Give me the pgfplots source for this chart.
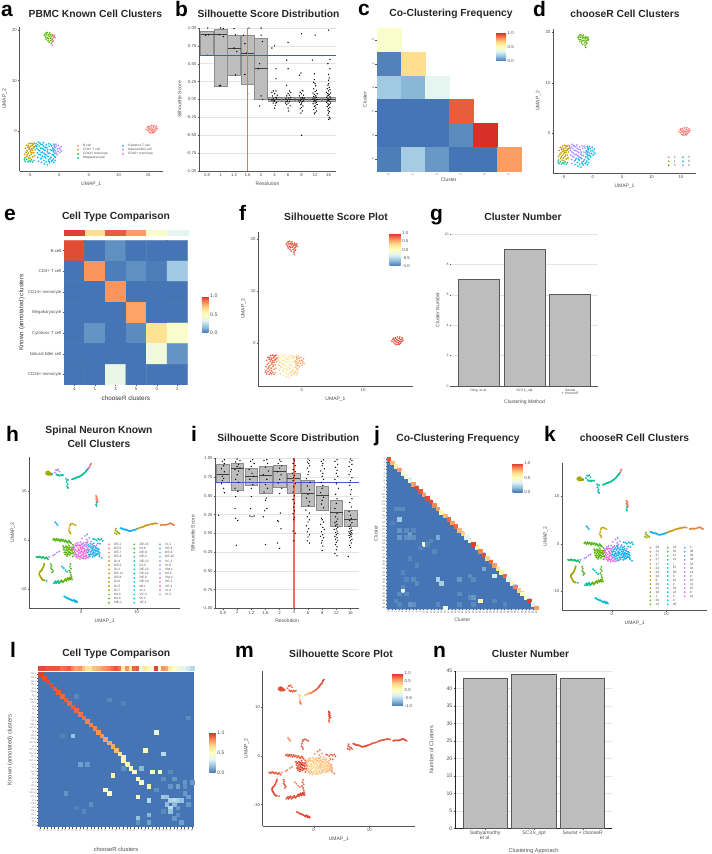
\documentclass[border=0pt]{standalone}
\usepackage{fontspec}
\setmainfont{Liberation Sans}
\usepackage{pgfplots}
\usepackage{pgfplotstable}
\pgfplotsset{compat=1.18}
\definecolor{hb}{HTML}{4575B4}
\definecolor{boxfill}{HTML}{BDBDBD}
\definecolor{boxedge}{HTML}{8C8C8C}
\definecolor{axl}{HTML}{555555}
\definecolor{tk}{HTML}{4D4D4D}
\definecolor{gridc}{HTML}{E4E4E4}
\definecolor{blueline}{HTML}{3A5FC8}
\definecolor{redline}{HTML}{E8705F}
\newcommand{\fs}[1]{\fontsize{#1}{#1}\selectfont}
\pgfplotsset{
 colormap={hue}{rgb255=(248,118,109) rgb255=(196,154,0) rgb255=(83,180,0) rgb255=(0,192,148) rgb255=(0,182,235) rgb255=(165,138,255) rgb255=(251,97,215)},
 colormap={hm}{rgb255=(69,117,180) rgb255=(145,191,219) rgb255=(224,243,248) rgb255=(255,255,191) rgb255=(254,224,144) rgb255=(252,141,89) rgb255=(215,48,39)},
 place/.style n args={4}{scale only axis,at={(#1pt,854pt-#4pt)},anchor=south west},
 base/.style={/pgf/number format/assume math mode=true,
  axis x line*=bottom,axis y line*=left,axis line style={draw=axl,line width=.8pt,-},
  tick style={draw=axl,line width=.35pt},major tick length=1.5pt,tick align=outside,
  tick label style={text=tk},
  xlabel style={font=\fs{5},text=tk,inner sep=0pt,yshift=-4pt},ylabel style={font=\fs{5},text=tk,inner sep=0pt,yshift=4pt},
  xticklabel style={font=\fs{4.3},inner sep=1pt},yticklabel style={font=\fs{4.3},inner sep=1pt}},
 pts/.style={scatter,only marks,mark=*,mark size=#1,scatter/use mapped color={draw=mapped color,fill=mapped color,line width=.05pt}},
 cbar/.style n args={5}{colorbar,colorbar style={at={(parent axis.south west)},anchor=south west,xshift=#1pt-8.54pt,yshift=#2pt,scale only axis,width=#3pt,height=#4pt,
   axis line style={draw=none},major tick length=0pt,ytick=#5,yticklabel style={font=\fs{4.3},text=tk,inner sep=1.5pt},xtick=\empty,
   /pgf/number format/fixed,/pgf/number format/fixed zerofill,/pgf/number format/precision=1,/pgf/number format/assume math mode=true}},
 sq/.style={scatter,only marks,mark=square*,mark size=#1,scatter/use mapped color={draw=mapped color,fill=mapped color,line width=.02pt}},
}
\pgfplotstableread{
x y a d s
14.7 0.3 0 0 .9
14.9 0.7 0 0 .95
15.0 0.1 0 0 .9
15.1 0.5 0 0 .95
15.2 -0.2 0 0 .85
15.3 0.9 0 0 .95
15.3 0.3 0 0 .9
15.4 -0.4 0 0 .9
15.5 0.1 0 0 .95
15.5 0.6 0 0 .95
15.6 1.1 0 0 .9
15.7 -0.3 0 0 .9
15.7 0.4 0 0 .95
15.8 0.0 0 0 .95
15.9 0.8 0 0 .95
16.0 0.3 0 0 .95
16.0 1.1 0 0 .85
16.1 -0.1 0 0 .9
16.2 0.6 0 0 .95
16.3 0.2 0 0 .95
16.4 0.9 0 0 .9
16.5 0.5 0 0 .9
15.0 0.9 0 0 .85
15.9 -0.3 0 0 .85
-2.5 18.9 2 2 .9
-2.4 19.2 2 2 .9
-2.3 18.6 2 2 .95
-2.2 19.4 2 2 .85
-2.2 18.2 2 2 .9
-2.1 19.0 2 2 .95
-2.0 18.5 2 2 .95
-2.0 19.5 2 2 .85
-1.9 17.9 2 2 .9
-1.8 19.1 2 2 .95
-1.8 18.3 2 2 .95
-1.7 18.8 2 2 .95
-1.7 17.6 2 2 .85
-1.6 19.4 2 2 .9
-1.5 18.4 2 2 .95
-1.5 19.0 2 2 .95
-1.4 17.9 2 2 .9
-1.3 18.7 2 2 .95
-1.3 17.4 2 2 .85
-1.2 19.1 2 2 .9
-1.2 18.2 2 2 .9
-1.1 17.7 2 2 .85
-1.1 18.9 6 2 .9
-1.0 18.4 6 2 .9
-0.9 18.7 6 2 .9
-0.8 19.0 6 2 .85
-0.7 18.5 6 2 .85
-1.0 17.9 6 2 .85
-1.2 17.0 6 2 .8
-5.7 -3.4 1 1 .8
-5.5 -2.8 1 1 .8
-5.4 -3.9 1 1 .75
-5.3 -3.2 1 1 .85
-5.2 -4.4 1 1 .75
-5.1 -2.5 1 1 .85
-5.1 -3.6 1 1 .85
-5.0 -4.9 1 1 .8
-4.9 -3.0 1 1 .9
-4.9 -4.1 1 1 .8
-4.8 -2.4 1 1 .9
-4.7 -3.5 1 1 .85
-4.7 -4.6 1 1 .7
-4.6 -2.9 1 1 .9
-4.5 -5.1 1 1 .7
-4.5 -3.8 1 1 .8
-4.4 -2.6 1 1 .9
-4.3 -3.2 1 1 .85
-4.3 -4.3 1 1 .65
-4.2 -2.4 1 1 .85
-4.1 -3.7 1 1 .7
-4.0 -2.9 1 1 .75
-5.8 -4.6 1 1 .8
-5.6 -4.2 1 1 .8
-5.5 -5.0 1 1 .8
-5.2 -5.3 1 1 .75
-4.9 -5.4 1 1 .8
-4.2 -4.9 1 1 .6
-5.35 -4.7 1 1 .8
-5.0 -3.3 1 1 .85
-4.8 -3.8 1 1 .8
-4.6 -4.3 1 1 .7
-4.4 -3.4 1 1 .8
-4.15 -3.1 1 1 .75
-4.55 -2.5 1 1 .9
-5.25 -2.9 1 1 .85
-5.9 -5.7 3 3 .8
-5.7 -6.0 3 3 .85
-5.5 -5.6 3 3 .8
-5.3 -6.1 3 3 .85
-5.1 -5.8 3 3 .85
-4.9 -6.0 3 3 .8
-4.7 -5.7 3 3 .75
-4.5 -6.1 3 3 .7
-5.8 -5.3 3 3 .8
-4.3 -5.8 3 3 .6
-3.9 -2.5 4 5 .3
-3.8 -3.4 4 5 .4
-3.7 -4.3 4 5 .45
-3.6 -5.2 4 5 .45
-3.5 -2.2 4 5 .2
-3.5 -6.0 4 5 .4
-3.4 -3.0 4 5 .35
-3.3 -3.9 4 5 .3
-3.2 -4.7 4 5 .3
-3.1 -5.5 4 5 .3
-3.1 -2.6 4 5 .25
-3.0 -6.2 4 4 .35
-2.9 -3.4 4 5 .3
-2.8 -4.2 4 5 .25
-2.8 -5.0 4 4 .2
-2.7 -2.3 4 5 .2
-2.6 -5.8 4 4 .35
-2.6 -3.0 4 5 .3
-2.5 -6.5 4 4 .4
-2.4 -3.8 4 5 .25
-2.4 -4.6 4 5 .2
-2.3 -5.3 4 4 .3
-2.2 -2.7 4 5 .35
-2.2 -6.1 4 4 .4
-2.1 -3.3 4 5 .3
-2.0 -4.1 4 5 .25
-2.0 -6.7 4 4 .35
-1.9 -5.0 4 4 .35
-1.8 -5.7 4 4 .4
-1.8 -2.5 4 5 .35
-1.7 -3.0 4 5 .35
-1.6 -4.4 4 5 .3
-1.6 -6.3 4 4 .4
-1.5 -3.7 4 5 .3
-1.4 -5.2 4 4 .4
-1.3 -2.9 4 5 .4
-1.3 -6.0 4 4 .45
-1.2 -4.7 4 4 .35
-1.1 -3.4 4 5 .4
-1.0 -5.5 4 4 .45
-1.0 -4.0 4 5 .4
-0.9 -6.2 4 4 .4
-0.9 -2.6 4 4 .5
-0.8 -5.0 4 4 .45
-0.8 -3.1 4 4 .5
-0.7 -4.4 4 4 .5
-0.7 -5.8 4 4 .4
-3.85 -3.0 4 5 .35
-3.65 -2.7 4 5 .3
-3.55 -3.7 4 5 .35
-3.45 -4.6 4 5 .4
-3.25 -2.4 4 5 .25
-3.15 -3.4 4 5 .3
-3.05 -4.2 4 5 .3
-2.95 -5.3 4 4 .3
-2.85 -2.7 4 5 .25
-2.65 -3.6 4 5 .25
-2.55 -4.4 4 5 .2
-2.45 -5.1 4 4 .25
-2.35 -3.2 4 5 .3
-2.15 -4.8 4 4 .3
-1.95 -3.7 4 5 .25
-1.85 -4.4 4 5 .3
-1.75 -6.0 4 4 .4
-1.55 -5.5 4 4 .4
-1.45 -2.6 4 5 .4
-1.25 -3.8 4 5 .35
-1.15 -5.8 4 4 .45
-0.95 -4.7 4 4 .45
-0.85 -3.7 4 4 .45
-0.65 -5.2 4 4 .5
-0.55 -2.6 5 4 .55
-0.35 -4.7 5 4 .5
-1.0 -3.6 5 4 .5
-0.9 -4.2 5 4 .5
-0.8 -2.9 5 4 .6
-0.7 -3.3 5 4 .55
-0.6 -3.9 5 4 .6
-0.5 -4.4 5 4 .5
-0.4 -3.0 5 4 .6
-0.3 -3.5 5 4 .65
-0.2 -4.0 5 4 .6
-0.1 -2.8 5 4 .6
0.0 -3.4 5 4 .65
0.1 -4.3 5 4 .55
0.2 -3.7 5 4 .65
0.3 -3.1 5 4 .6
0.4 -4.0 5 4 .6
}\pbmc
\pgfplotstableread{
x y c k s
-6.3 13.7 9 9 .9
-6.2 14.0 9 9 .95
-6.1 13.5 9 9 .9
-6.0 13.8 9 9 .95
-5.9 14.1 9 9 .95
-5.9 13.4 9 9 .9
-5.8 13.7 9 9 .95
-5.7 14.0 9 9 .95
-5.7 13.5 9 9 .95
-5.6 13.8 9 9 .95
-5.5 13.4 9 9 .9
-5.4 13.7 9 9 .9
-5.3 13.5 9 9 .9
-5.2 13.6 21 21 .85
-4.7 13.9 37 21 .8
-4.5 14.4 37 22 .85
-4.3 14.4 37 22 .85
-4.1 14.5 37 22 .8
-3.9 14.1 37 22 .8
-4.4 13.5 22 21 .8
-4.2 13.3 22 21 .85
-4.0 13.4 22 21 .85
-3.8 13.2 22 21 .85
-3.6 13.4 22 21 .85
-3.4 13.3 22 21 .85
-3.2 13.4 22 21 .8
-2.7 12.6 23 23 .4
-2.5 12.3 23 23 .35
-2.6 11.9 23 23 .4
-2.4 11.5 23 23 .5
-2.5 11.1 23 23 .7
-2.3 10.7 23 31 .8
-2.4 10.9 23 31 .8
-2.3 12.4 23 23 .35
-1.6 12.5 21 21 .4
-1.45 12.55 21 21 .4
-1.3 12.6 21 21 .45
-1.15 12.7 21 21 .45
-1.0 12.8 21 21 .5
-0.85 12.85 21 21 .55
-0.7 12.9 21 21 .6
-0.55 12.95 21 21 .65
-0.4 13.0 21 21 .7
-0.25 13.1 21 21 .7
-0.1 13.2 21 21 .75
0.05 13.3 21 21 .8
0.2 13.4 21 21 .8
0.35 13.55 21 21 .85
0.5 13.7 21 21 .85
0.65 13.85 21 21 .85
0.8 14.0 22 21 .85
0.9 14.15 22 21 .85
1.0 14.3 22 21 .9
1.1 14.45 22 21 .9
1.2 14.6 22 21 .9
1.3 14.7 22 21 .9
1.4 14.8 40 22 .9
1.5 15.0 41 22 .9
1.6 15.2 41 0 .9
1.7 15.5 1 0 .95
1.8 15.7 1 0 .95
2.7 9.1 1 1 .95
2.8 8.9 1 1 .95
2.9 8.7 1 1 .95
2.7 8.5 1 1 .95
2.9 8.3 1 1 .95
2.8 8.1 1 1 .95
3.0 7.9 1 1 .9
2.8 7.7 21 21 .85
2.7 7.3 23 23 .8
2.8 7.0 23 23 .75
-2.2 2.0 7 7 .85
-2.1 2.5 7 7 .9
-2.0 3.0 7 7 .9
-1.9 3.3 7 7 .9
-1.6 3.4 7 7 .9
-1.3 3.3 7 7 .9
-1.0 3.1 7 7 .9
-2.0 1.7 7 7 .85
-1.9 1.4 7 7 .8
-4.6 3.7 29 29 .7
-4.4 3.4 29 29 .7
-4.2 3.1 29 29 .7
6.1 1.5 10 10 .9
6.2 2.0 10 10 .9
6.3 2.4 10 10 .9
6.5 1.8 10 10 .9
6.4 1.3 10 10 .9
6.7 1.6 10 10 .85
6.9 1.4 10 10 .85
7.1 2.5 28 28 .9
7.25 2.45 28 28 .9
7.4 2.4 28 28 .9
7.55 2.3 28 28 .9
7.7 2.2 28 28 .9
7.85 2.2 28 28 .9
8.0 2.2 28 28 .9
8.15 2.15 28 28 .9
8.3 2.1 29 29 .9
8.45 2.0 29 29 .9
8.6 1.9 29 29 .9
8.75 1.9 29 29 .9
8.9 1.9 29 29 .9
9.05 1.95 29 29 .9
9.2 2.0 29 29 .9
9.35 2.05 29 29 .9
9.5 2.1 29 29 .9
9.65 2.15 29 29 .9
9.8 2.2 29 29 .85
10.0 2.3 29 29 .85
10.2 2.4 6 6 .85
10.4 2.5 6 6 .85
10.6 2.6 6 6 .85
10.8 2.65 6 6 .85
11.0 2.7 6 6 .85
11.2 2.8 6 6 .85
11.4 2.9 6 6 .85
11.6 3.0 6 6 .85
11.8 3.1 6 6 .85
12.0 3.15 6 6 .85
12.2 3.2 6 6 .9
12.4 3.25 6 6 .9
12.6 3.3 5 5 .9
12.8 3.35 5 5 .9
13.0 3.4 5 5 .9
13.2 3.45 5 5 .9
13.4 3.5 5 5 .9
13.7 3.4 5 5 .9
14.3 3.1 3 3 .9
14.45 3.15 3 3 .9
14.6 3.2 3 3 .9
14.8 3.2 3 3 .9
15.0 3.2 3 3 .9
15.2 3.2 3 3 .9
15.4 3.2 3 3 .9
15.6 3.3 3 3 .9
15.8 3.4 2 2 .9
15.95 3.45 2 2 .9
16.1 3.5 2 2 .9
16.25 3.4 2 2 .9
16.4 3.3 2 2 .9
16.55 3.2 2 2 .9
16.7 3.1 2 2 .85
-5.0 0.1 14 14 .85
-4.9 0.2 14 14 .85
-4.8 0.3 14 14 .85
-4.6 -0.1 14 14 .85
-4.5 0.1 14 14 .85
-4.4 0.3 14 14 .85
-4.2 0.0 14 14 .85
-4.1 0.1 14 14 .85
-4.0 0.2 14 14 .85
-3.8 -0.2 14 14 .85
-3.7 0.0 14 14 .85
-3.6 0.2 15 15 .8
-3.4 -0.1 15 15 .8
-3.3 0.0 15 15 .8
-3.2 0.1 15 15 .8
-3.0 -0.3 15 15 .8
-2.9 -0.15 15 15 .8
-2.8 0.0 15 15 .8
-2.6 -0.2 15 15 .8
-2.5 -0.35 15 15 .8
-2.4 -0.5 15 15 .8
-2.2 -0.1 15 15 .8
-2.1 -0.25 15 15 .8
-2.0 -0.4 15 15 .8
-1.9 -0.5 15 15 .8
-1.8 -0.6 15 15 .8
-3.2 -1.2 14 14 .85
-3.1 -1.9 14 14 .9
-3.0 -2.5 14 14 .9
-2.9 -1.5 13 13 .9
-2.8 -2.1 14 14 .9
-2.8 -2.9 14 14 .9
-2.7 -1.2 13 13 .9
-2.6 -1.8 14 14 .95
-2.6 -2.5 14 14 .95
-2.5 -3.2 14 14 .9
-2.4 -1.5 13 13 .95
-2.4 -2.1 14 14 .95
-2.3 -2.8 14 14 .95
-2.2 -1.0 13 13 .9
-2.2 -1.8 13 13 .95
-2.1 -2.4 14 14 .95
-2.0 -3.0 14 14 .9
-2.0 -1.4 13 13 .9
-1.9 -2.0 13 13 .95
-1.8 -2.7 14 14 .9
-1.7 -1.5 13 13 .9
-1.6 -2.2 13 13 .9
-1.5 -3.3 14 14 .8
-1.4 -1.9 13 13 .85
-1.3 -2.6 13 13 .85
-1.5 -0.9 13 13 .85
-3.05 -1.5 14 14 .9
-2.85 -2.5 14 14 .9
-2.55 -1.3 13 13 .9
-2.45 -2.85 14 14 .95
-2.3 -1.5 13 13 .95
-2.25 -2.4 14 14 .95
-2.05 -1.8 13 13 .95
-1.95 -2.55 14 14 .95
-1.75 -1.9 13 13 .9
-1.55 -2.65 14 14 .9
-1.5 -1.5 13 13 .9
-1.3 -1.2 35 35 .6
-1.0 -1.0 40 40 .5
-1.4 -1.7 41 41 .6
-1.2 -3.0 40 40 .6
-1.0 -1.9 41 42 .55
-1.0 -2.6 41 42 .5
-0.9 -3.3 40 42 .5
-0.8 -1.2 41 42 .45
-0.7 -2.2 42 42 .45
-0.7 -3.6 41 40 .5
-0.6 -0.5 38 38 .55
-0.5 -1.6 41 42 .4
-0.5 -2.8 42 42 .4
-0.4 -3.3 41 40 .45
-0.3 -1.0 42 38 .45
-0.3 -2.1 41 42 .35
-0.2 -3.8 40 40 .45
-0.1 -0.4 37 37 .55
-0.1 -1.4 41 38 .4
-0.1 -2.6 42 42 .35
0.0 -3.2 41 40 .4
0.1 -0.9 42 38 .45
0.1 -1.9 42 30 .35
0.2 0.4 36 36 .65
0.2 -3.6 42 40 .45
0.3 -2.4 41 30 .35
0.3 -1.3 42 30 .4
0.4 -2.9 42 30 .4
0.5 -0.5 37 37 .5
0.5 -3.3 41 40 .4
0.6 -1.7 36 30 .4
0.6 -2.2 41 29 .4
0.7 0.9 35 36 .75
0.7 -0.9 36 30 .5
0.8 -2.7 41 29 .4
0.8 -3.7 42 40 .45
0.9 -1.3 42 30 .45
1.0 0.2 38 38 .65
1.0 -3.1 40 29 .45
1.0 -2.0 36 29 .45
1.1 -0.5 38 30 .55
1.1 1.2 30 30 .8
1.2 -1.6 40 29 .5
1.2 -2.5 30 29 .5
1.3 -3.5 42 29 .5
1.3 -0.9 30 30 .5
1.4 -2.9 30 29 .5
1.5 0.5 36 36 .65
1.5 -1.9 41 29 .5
1.6 -1.2 30 30 .5
1.6 -3.3 30 29 .5
1.7 -2.4 30 29 .45
1.8 -0.3 35 30 .55
1.8 -1.6 30 29 .45
1.9 -2.9 30 29 .45
2.0 -2.0 30 29 .4
2.0 -0.8 34 30 .5
2.1 -3.4 29 29 .5
2.2 -1.4 30 29 .4
2.2 -2.5 30 29 .45
2.3 -3.0 30 29 .5
2.3 -0.6 30 30 .5
2.4 -1.9 29 29 .45
2.5 -2.6 30 29 .4
2.6 -1.4 28 29 .5
2.6 -3.1 29 29 .5
2.7 -2.2 29 29 .5
2.8 -1.0 37 37 .6
2.9 -2.7 29 29 .5
3.0 -1.7 28 28 .55
3.1 -2.3 29 29 .55
3.3 -3.0 29 29 .6
-1.2 -1.5 41 41 .55
-1.15 -2.2 41 42 .5
-0.9 -0.7 40 40 .5
-0.85 -2.9 42 42 .45
-0.6 -1.0 41 42 .45
-0.55 -3.2 41 42 .45
-0.4 -1.9 42 42 .4
-0.35 -2.5 41 42 .4
-0.2 -1.1 42 38 .4
-0.15 -3.4 42 40 .4
0.0 -1.6 41 30 .35
0.05 -2.3 42 30 .35
0.2 -2.9 41 30 .35
0.25 -0.7 37 37 .45
0.35 -1.6 42 30 .35
0.45 -3.7 41 40 .45
0.5 -2.6 41 29 .35
0.55 -1.1 36 30 .45
0.7 -2.0 42 29 .4
0.75 -3.2 42 29 .4
0.9 -0.5 38 30 .5
0.95 -2.4 41 29 .4
1.05 -1.0 36 30 .45
1.1 -3.5 42 29 .45
1.2 -0.2 37 37 .55
1.25 -1.9 40 29 .45
1.35 -2.2 30 29 .45
1.45 -1.3 30 30 .5
1.5 -3.0 30 29 .45
1.65 -0.7 30 30 .5
1.7 -2.9 30 29 .45
1.85 -2.2 30 29 .4
1.95 -1.2 30 29 .45
2.05 -2.7 30 29 .4
2.1 -1.7 30 29 .4
2.25 -2.2 29 29 .4
2.35 -1.1 30 29 .45
2.4 -3.2 29 29 .5
2.55 -2.1 29 29 .45
2.7 -1.6 28 29 .5
2.75 -2.9 29 29 .5
2.85 -2.1 29 29 .5
3.05 -2.8 29 29 .55
3.2 -1.9 28 28 .55
3.3 -2.5 29 29 .6
2.2 0.3 26 26 .8
2.5 0.2 26 26 .85
2.8 0.0 26 26 .85
3.1 0.3 26 26 .85
3.4 0.1 25 25 .85
3.7 0.3 25 25 .85
3.9 -0.1 25 25 .85
3.0 -0.6 27 27 .8
3.4 -0.7 27 27 .8
3.3 -3.3 29 29 .7
3.7 -3.6 27 27 .75
-8.0 -3.4 19 19 .85
-7.85 -3.45 19 19 .85
-7.7 -3.5 19 19 .85
-7.55 -3.4 19 19 .85
-7.4 -3.3 19 19 .85
-7.25 -3.45 19 19 .85
-7.1 -3.6 19 19 .85
-6.95 -3.5 19 19 .85
-6.8 -3.4 19 19 .85
-6.65 -3.55 19 19 .85
-6.5 -3.7 19 19 .85
-6.35 -3.6 19 19 .85
-6.2 -3.5 19 19 .8
-6.05 -3.7 19 19 .8
-5.9 -3.9 19 19 .75
-5.7 -3.4 36 36 .7
-5.0 -3.1 35 35 .7
-4.7 -2.9 35 35 .7
-4.3 -2.5 35 35 .7
-3.9 -2.3 42 42 .7
-6.6 -4.8 10 10 .85
-6.65 -5.05 10 10 .85
-6.7 -5.3 10 10 .9
-6.8 -5.55 10 10 .9
-6.9 -5.8 10 10 .9
-7.0 -6.0 10 10 .9
-7.1 -6.2 10 10 .9
-7.25 -6.35 10 10 .9
-7.4 -6.5 9 9 .95
-7.45 -6.75 9 9 .95
-7.5 -7.0 9 9 .95
-7.4 -7.2 9 9 .95
-7.3 -7.4 9 9 .95
-7.2 -7.6 9 9 .95
-7.1 -7.8 9 9 .9
-7.0 -7.95 9 9 .9
-6.9 -8.1 9 9 .9
-6.75 -8.15 9 9 .9
-6.6 -8.2 9 9 .85
-6.2 -8.3 21 21 .8
-5.4 -4.9 15 15 .85
-5.3 -5.3 15 15 .9
-5.4 -5.7 15 15 .9
-5.2 -6.0 15 15 .9
-5.0 -6.3 15 15 .9
-5.2 -6.6 15 15 .85
-4.9 -8.8 21 21 .85
-4.75 -8.6 21 21 .85
-4.6 -8.4 21 21 .9
-4.5 -8.8 21 21 .9
-4.4 -8.65 21 21 .9
-4.3 -8.5 21 21 .9
-4.2 -8.4 21 21 .9
-4.1 -8.3 21 21 .9
-4.0 -8.8 21 21 .9
-3.85 -8.65 21 21 .9
-3.7 -8.5 19 19 .9
-3.6 -8.35 19 19 .9
-3.5 -8.2 13 13 .9
-3.4 -8.4 13 13 .9
-3.3 -8.6 13 13 .9
-3.15 -8.45 13 13 .9
-3.0 -8.3 13 13 .9
-2.9 -8.1 13 13 .9
-2.8 -7.9 13 13 .9
-2.7 -8.1 13 13 .9
-2.6 -8.3 13 13 .9
-2.5 -8.0 13 13 .9
-2.4 -7.7 13 13 .95
-2.3 -7.9 13 13 .95
-2.2 -8.1 13 13 .95
-2.1 -7.85 13 13 .95
-2.0 -7.6 13 13 .95
-1.9 -8.0 13 13 .95
-1.8 -7.75 13 13 .95
-1.7 -7.5 13 13 .9
-1.6 -8.0 13 13 .9
-1.9 -4.9 15 15 .75
-2.0 -5.4 15 15 .85
-1.8 -5.8 15 15 .85
-2.1 -6.2 15 15 .9
-1.9 -6.6 15 15 .9
-1.8 -7.1 15 15 .9
-3.4 -5.4 26 26 .7
-3.1 -5.7 26 26 .7
-2.8 -6.1 26 26 .75
-2.5 -6.4 26 26 .75
-3.0 -11.5 26 26 .85
-2.85 -11.6 26 26 .85
-2.7 -11.7 26 26 .85
-2.55 -11.8 26 26 .85
-2.4 -11.9 26 26 .9
-2.25 -11.95 26 26 .9
-2.1 -12.0 26 26 .9
-1.95 -12.1 26 26 .9
-1.8 -12.2 26 26 .9
-1.65 -12.3 26 26 .9
-1.5 -12.4 27 27 .95
-1.4 -12.3 27 27 .95
-1.3 -12.2 27 27 .95
-1.2 -12.4 27 27 .95
-1.1 -12.6 27 27 .95
-1.0 -12.5 27 27 .95
-0.9 -12.4 27 27 .95
-0.8 -12.55 27 27 .95
-0.7 -12.7 27 27 .95
}\spinal
\pgfplotstableread[col sep=comma]{
x,y,c,lab
78,145.7,0,B cell
78,149.7,7,CD4+ T cell
78,154,14,CD14+ monocyte
78,158,21,Megakaryocyte
123,145.7,28,Cytotoxic T cell
123,149.7,35,Natural killer cell
123,154,42,CD16+ monocyte
668.7,157.3,0,4
668.7,161.3,7,1
668.7,165.3,14,3
683,157.3,21,5
683,161.3,28,0
683,165.3,35,2
}\lega
\pgfplotstableread[col sep=comma]{
x,y,c,lab
109,544.3,0,DE-1
109,548.5,1,DE-5
109,552.6,2,DE-7
109,556.8,3,DE-4
109,561,4,DI-4
109,565.2,5,DE-6
109,569.3,6,DI-1
109,573.5,7,DE-11
109,577.7,8,DE-8
109,581.8,9,DI-6
109,586,10,DI-5
109,590.2,11,DI-7
109,594.4,12,MI-3
109,598.5,13,MI-4
109,602.7,14,ME-1
134.3,544.3,15,DE-15
134.3,548.5,16,DI-8
134.3,552.6,17,DE-9
134.3,556.8,18,DE-2
134.3,561,19,DE-12
134.3,565.2,20,DI-3
134.3,569.3,21,DE-13
134.3,573.5,22,DE-14
134.3,577.7,23,DE-0
134.3,581.8,24,DE-10
134.3,586,25,MI-1
134.3,590.2,26,VI-2
134.3,594.4,27,VC-2
134.3,598.5,28,DI-2
134.3,602.7,29,VE-1
160,544.3,30,VI-1
160,548.5,31,VE-4
160,552.6,32,DE-3
160,556.8,33,DE-16
160,561,34,VC-1
160,565.2,35,VI-6
160,569.3,36,VM-1
160,573.5,37,MI-2
160,577.7,38,VM-2
160,581.8,39,VE-2
160,586,40,VE-3
160,590.2,41,VI-4
160,594.4,42,VI-3
650.3,547.7,0,28
650.3,551.7,1,21
650.3,555.8,2,37
650.3,559.8,3,27
650.3,563.9,4,17
650.3,567.9,5,24
650.3,572,6,19
650.3,576,7,16
650.3,580.1,8,9
650.3,584.1,9,29
650.3,588.2,10,23
650.3,592.2,11,18
650.3,596.3,12,1
650.3,600.3,13,26
650.3,604.3,14,13
667.7,547.7,15,10
667.7,551.7,16,35
667.7,555.8,17,11
667.7,559.8,18,12
667.7,563.9,19,7
667.7,567.9,20,15
667.7,572,21,30
667.7,576,22,6
667.7,580.1,23,42
667.7,584.1,24,2
667.7,588.2,25,32
667.7,592.2,26,22
667.7,596.3,27,5
667.7,600.3,28,4
667.7,604.3,29,40
684.7,547.7,30,3
684.7,551.7,31,38
684.7,555.8,32,36
684.7,559.8,33,39
684.7,563.9,34,34
684.7,567.9,35,33
684.7,572,36,14
684.7,576,37,0
684.7,580.1,38,20
684.7,584.1,39,31
684.7,588.2,40,25
684.7,592.2,41,8
684.7,596.3,42,41
}\legh
% box: left edge, right edge, lower quartile, median, upper quartile
\newcommand{\bxx}[5]{\addplot[fill=boxfill,draw=boxedge,line width=.4pt,forget plot] coordinates {(#1,#3)(#2,#3)(#2,#5)(#1,#5)} -- cycle;
\addplot[draw=black!75,line width=1pt,forget plot] coordinates {(#1,#4)(#2,#4)};}
\newcommand{\ttl}[3]{\node[font=\bfseries\fs{10.3},inner sep=0pt,text=black!85] at (#1,#2) {#3};}
\newcommand{\pl}[3]{\node[font=\bfseries\fs{21},inner sep=0pt,anchor=base west] at (#1,#2) {#3};}
\begin{document}
\begin{tikzpicture}
\path[use as bounding box] (0,0) rectangle (712pt,854pt);
% a
\begin{axis}[base,place={19.5}{163}{27}{171},width=143.5pt,height=144pt,xmin=-6.7,xmax=17.5,ymin=-7.9,ymax=20.6,
 xtick={-5,0,5,10,15},ytick={0,10,20},xlabel={UMAP\_1},ylabel={UMAP\_2},colormap name=hue,point meta min=0,point meta max=6]
\addplot[pts=.8pt,scatter src=explicit] table[x=x,y=y,meta=a]{\pbmc};
\end{axis}
% b
\begin{axis}[base,place={199}{336}{28}{171},width=137pt,height=143pt,xmin=-.6,xmax=9.55,ymin=-1,ymax=1,
 xtick={0,...,9},xticklabels={0.8,1,1.2,1.6,2,4,6,8,12,16},ytick={-1,-.75,...,1},
 yticklabels={-1.00,-0.75,-0.50,-0.25,0.00,0.25,0.50,0.75,1.00},
 ymajorgrids,grid style={gridc,line width=.5pt},xlabel={Resolution},ylabel={Silhouette Score}]
\bxx{-.475}{.475}{.62}{.905}{.957}\bxx{.525}{1.475}{.19}{.905}{.99}\bxx{1.525}{2.475}{.345}{.71}{.90}\bxx{2.525}{3.475}{.215}{.64}{.905}\bxx{3.525}{4.475}{0}{.43}{.86}
\bxx{4.525}{5.475}{-.03}{0}{.03}\bxx{5.525}{6.475}{-.03}{0}{.03}\bxx{6.525}{7.475}{-.03}{0}{.03}\bxx{7.525}{8.475}{-.03}{0}{.03}\bxx{8.525}{9.475}{-.03}{0}{.03}
\addplot[only marks,mark=*,mark size=.4pt,black] coordinates {
(.05,1)(-.1,.9)(.1,.905)(0,.62)(1,1)(1.2,.99)(.9,.905)(1.2,.88)(.9,.19)(1,.2)(2,.99)(2.1,.905)(2,.72)(2.2,.67)(2.1,.345)
(3.1,1)(2.7,.9)(2.8,.78)(2.9,.65)(3,.55)(2.8,.35)(3,.25)(3,.08)(4,1)(4,.9)(4.1,.81)(3.9,.5)(3.8,.43)(4,.05)(4.1,0)(3.9,-.09)
(4.8,.72)(5,.75)(5.1,.43)(5.1,.29)(5.1,.12)(4.8,.1)(4.9,.12)(4.85,.05)(5,-.02)(5.1,.03)(5,.08)(4.9,-.05)(5.05,-.08)(5.15,.02)(4.95,-.02)(5,-.12)(5.1,-.05)(4.9,.01)(5.15,-.04)(4.8,-.01)(5.2,.06)
(6,.8)(5.9,.55)(6,.43)(5.9,.2)(6.1,.12)(6.2,.1)(6,.08)(5.9,.05)(6.05,.02)(5.85,.01)(6.15,0)(5.95,-.02)(6.1,-.03)(6,-.05)(5.9,-.07)(6.15,-.09)(6,-.12)(6.05,-.16)(5.85,-.03)(6.2,.03)(5.8,-.05)(6.1,.06)
(7,.92)(6.95,.37)(6.85,.34)(7.1,.12)(7.05,.13)(6.9,.1)(7,.08)(7.15,.06)(6.85,.05)(7.05,.03)(6.95,.02)(7.1,.01)(7,0)(6.9,-.01)(7.15,-.02)(7.05,-.03)(6.85,-.04)(7,-.05)(6.95,-.07)(7.1,-.09)(7,-.11)(6.9,-.13)(7.05,-.16)(6.95,-.19)(7,-.5)(7.2,.02)(6.8,-.02)
(8,.9)(7.8,.55)(7.95,.36)(7.95,.28)(7.9,.24)(8,.22)(8.05,.19)(7.9,.15)(8.1,.13)(8,.11)(7.85,.09)(8.15,.08)(7.95,.07)(8.05,.05)(7.9,.04)(8.1,.03)(8,.02)(7.85,.01)(8.15,0)(7.95,-.01)(8.05,-.02)(7.9,-.03)(8.1,-.04)(8,-.05)(7.85,-.06)(8.15,-.07)(8,-.09)(7.95,-.1)(8.05,-.12)(7.9,-.14)(8.1,-.16)(8,-.18)(7.95,-.2)
(9,.97)(9.1,.56)(8.95,.5)(9.1,.43)(9,.35)(9.05,.3)(9,.27)(9,.22)(8.95,.2)(9.05,.17)(8.9,.15)(9.1,.14)(9,.12)(8.85,.1)(9.15,.09)(8.95,.08)(9.05,.07)(9,.06)(8.9,.05)(9.1,.04)(8.85,.03)(9.15,.02)(8.95,.01)(9.05,0)(9,-.01)(8.9,-.02)(9.1,-.03)(8.85,-.04)(9.15,-.05)(8.95,-.06)(9.05,-.07)(9,-.08)(8.9,-.1)(9.1,-.11)(9,-.13)(8.95,-.15)(9.05,-.17)(9,-.19)(8.95,-.22)(9.05,-.25)(9.1,-.27)(9,-.28)
};
\end{axis}
\begin{axis}[place={199}{336}{28}{171},width=137pt,height=143pt,hide axis,xmin=-.6,xmax=9.55,ymin=-1,ymax=1]
\addplot[blueline,mark=none,line width=.7pt] coordinates {(-.6,.62)(9.55,.62)};
\addplot[redline,mark=none,line width=1.4pt] coordinates {(3,-1)(3,1)};
\end{axis}
% c
\begin{axis}[base,place={376.7}{520.7}{28}{171},width=144pt,height=143pt,xmin=-.5,xmax=5.5,ymin=-.5,ymax=5.5,y dir=reverse,
 axis line style={draw=none},xtick={0,...,5},ytick={0,...,5},xlabel={Cluster},ylabel={Cluster},xlabel style={yshift=3pt},
 xticklabel style={font=\fs{3},rotate=90},yticklabel style={font=\fs{3},rotate=90},colormap name=hm,point meta min=0,point meta max=1,
 cbar={119.3}{110}{10}{28}{{0,.5,1}}]
\addplot[sq=12pt,scatter src=explicit] table[x=x,y=y,meta=v]{
x y v
0 0 .47
0 1 .03
1 1 .67
0 2 .2
1 2 .15
2 2 .36
0 3 0
1 3 0
2 3 0
3 3 .92
0 4 0
1 4 0
2 4 0
3 4 .05
4 4 1
0 5 .02
1 5 .21
2 5 .08
3 5 0
4 5 0
5 5 .8
};
\end{axis}
% d
\begin{axis}[base,place={553}{696}{29}{173},width=143pt,height=144pt,xmin=-6.75,xmax=17.57,ymin=-7.86,ymax=20.65,
 xtick={-5,0,5,10,15},ytick={0,10,20},xlabel={UMAP\_1},ylabel={UMAP\_2},colormap name=hue,point meta min=0,point meta max=6]
\addplot[pts=.8pt,scatter src=explicit] table[x=x,y=y,meta=d]{\pbmc};
\end{axis}
% e
\begin{axis}[base,place={64}{187.7}{240.3}{385},width=123.7pt,height=144.7pt,xmin=-.5,xmax=5.5,ymin=-.5,ymax=6.5,y dir=reverse,
 axis line style={draw=none},xtick={0,...,5},xticklabels={4,1,3,5,0,2},ytick={0,...,6},
 yticklabels={B cell,CD4+ T cell,CD14+ monocyte,Megakaryocyte,Cytotoxic T cell,Natural killer cell,CD16+ monocyte},
 xlabel={chooseR clusters},ylabel={Known (annotated) clusters},xlabel style={font=\fs{6.3},text=black!80},ylabel style={font=\fs{6.3},text=black!80,yshift=-2pt},
 colormap name=hm,point meta min=0,point meta max=1,cbar={138}{52}{6.5}{37}{{0,.5,1}},
 colorbar style={yticklabel style={font=\fs{5.2}}}]
\addplot[matrix plot*,mesh/cols=6,point meta=explicit] table[x=x,y=y,meta=v]{
x y v
0 0 .95
1 0 0
2 0 .06
3 0 0
4 0 0
5 0 0
0 1 0
1 1 .82
2 1 .02
3 1 .06
4 1 .02
5 1 .2
0 2 0
1 2 0
2 2 .82
3 2 0
4 2 0
5 2 0
0 3 0
1 3 0
2 3 0
3 3 .79
4 3 0
5 3 0
0 4 0
1 4 .07
2 4 0
3 4 .05
4 4 .65
5 4 .47
0 5 0
1 5 0
2 5 0
3 5 0
4 5 .42
5 5 .07
0 6 0
1 6 0
2 6 .38
3 6 0
4 6 0
5 6 0
};
\end{axis}
\begin{axis}[place={64}{187.7}{229.7}{235},width=123.7pt,height=5.3pt,hide axis,xmin=-.5,xmax=5.5,ymin=-1,ymax=1,colormap name=hm,point meta min=0,point meta max=1]
\addplot[sq=10.31pt,mark options={yscale=.257},scatter src=explicit] coordinates {(0,0)[.97](1,0)[.67](2,0)[.92](3,0)[.8](4,0)[.47](5,0)[.36]};
\end{axis}
% f
\begin{axis}[base,place={258.3}{412.7}{231.7}{386},width=154.4pt,height=154.3pt,xmin=-7.08,xmax=18.1,ymin=-8.33,ymax=21.35,
 xtick={0,10},ytick={0,10,20},xlabel={UMAP\_1},ylabel={UMAP\_2},colormap name=hm,point meta min=-1,point meta max=1,
 cbar={131.4}{120}{11}{32.7}{{-1,-.5,0,.5,1}}]
\addplot[pts=.8pt,scatter src=explicit] table[x=x,y=y,meta=s]{\pbmc};
\end{axis}
% g
\begin{axis}[base,place={451.3}{597.7}{234}{386},width=146.4pt,height=152pt,xmin=-.6,xmax=2.6,ymin=0,ymax=10,ybar,bar width=41pt,
 xtick={0,1,2},xticklabels={{Ding, et al.},{SC3 k\_opt},{Seurat\\+ chooseR}},xticklabel style={font=\fs{3.5},align=center},
 ytick={0,2,...,10},yticklabel style={font=\fs{3.5}},ymajorgrids,grid style={gridc,line width=.5pt},y axis line style={draw=none},
 xlabel={Clustering Method},ylabel={Cluster Number}]
\addplot[fill=boxfill,draw=black!65,line width=.9pt] coordinates {(0,7)(1,9)(2,6)};
\end{axis}
% h
\begin{axis}[base,place={29.3}{180}{456.7}{608.3},width=150.7pt,height=151.6pt,xmin=-9.28,xmax=17.77,ymin=-13.93,ymax=17.13,
 xtick={0,10},ytick={-10,0,10},xlabel={UMAP\_1},ylabel={UMAP\_2},colormap name=hue,point meta min=0,point meta max=42]
\addplot[pts=.9pt,scatter src=explicit] table[x=x,y=y,meta=c]{\spinal};
\end{axis}
% i
\begin{axis}[base,place={215.3}{359}{458.3}{608.3},width=143.7pt,height=150pt,xmin=-.54,xmax=9.6,ymin=-1,ymax=1,
 xtick={0,...,9},xticklabels={0.8,1,1.2,1.6,2,4,6,8,12,16},ytick={-1,-.75,...,1},
 yticklabels={-1.00,-0.75,-0.50,-0.25,0.00,0.25,0.50,0.75,1.00},
 ymajorgrids,grid style={gridc,line width=.5pt},xlabel={Resolution},ylabel={Silhouette Score},ylabel style={yshift=3pt}]
\bxx{-.45}{.45}{.68}{.79}{.924}\bxx{.55}{1.45}{.58}{.866}{.93}\bxx{1.55}{2.45}{.635}{.76}{.866}\bxx{2.55}{3.45}{.533}{.777}{.893}\bxx{3.55}{4.45}{.61}{.83}{.907}
\bxx{4.55}{5.45}{.533}{.733}{.8}\bxx{5.55}{6.45}{.36}{.537}{.71}\bxx{6.55}{7.45}{.31}{.507}{.63}\bxx{7.55}{8.45}{.09}{.28}{.444}\bxx{8.55}{9.45}{.09}{.18}{.31}
\addplot[only marks,mark=*,mark size=.4pt,black] coordinates {
(.1,.98)(-.05,.96)(.1,.93)(.05,.9)(-.1,.86)(.1,.82)(-.05,.76)(.05,.73)(-.05,.7)(-.1,.66)(.05,.6)(.1,.54)(-.3,.24)
(1,.99)(1.2,.97)(.9,.95)(1.1,.92)(1,.89)(1.2,.87)(.85,.85)(1.1,.83)(1,.78)(.9,.72)(1.1,.68)(.85,.6)(1.05,.56)(.9,.49)(.85,.33)(.9,.2)(1.05,.17)(.95,-.16)
(2.1,.98)(1.95,.96)(2.2,.93)(2,.89)(1.85,.85)(2.05,.8)(2.15,.76)(1.9,.72)(2.1,.65)(2,.6)(2,.49)(1.95,.33)(2.2,.23)(1.9,.23)(2.05,.22)
(3.1,.98)(2.9,.97)(3.15,.93)(3,.88)(3.2,.83)(2.85,.78)(3.1,.72)(3,.65)(3.15,.6)(2.9,.55)(3.05,.47)(3,.44)(3.1,.33)(2.95,.3)(2.85,.22)(3,-.15)
(4,.98)(4.1,.96)(3.9,.93)(4.15,.9)(4,.87)(3.85,.82)(4.1,.78)(4,.72)(3.9,.67)(4.15,.6)(4,.53)(4.05,.27)(3.85,.17)(3.9,.16)(4.1,.06)(3.85,-.13)(4,-.2)
(5,.99)(5.05,.97)(4.95,.93)(5.1,.9)(4.95,.85)(5.1,.82)(4.9,.8)(5.05,.77)(5,.74)(4.95,.7)(5.1,.66)(5,.62)(4.95,.55)(5.05,.5)(4.95,.45)(5.05,.4)(5,.35)(5.05,.3)(4.95,.26)(5.05,.21)(5,.18)(4.95,.03)(5.1,.0)(5,-.1)
(6,.99)(6.1,.97)(5.95,.95)(6.05,.93)(6.1,.9)(5.95,.87)(6.05,.82)(6,.78)(5.9,.73)(6.15,.68)(5.95,.63)(6.1,.58)(6,.52)(5.9,.47)(6.1,.42)(6.05,.37)(5.85,.31)(6.1,.27)(5.95,.22)(6.1,.18)(6,.15)(5.9,.1)(6.05,.06)(5.95,.02)(6.1,-.02)(6,-.05)(5.95,-.1)(6.1,-.13)
(7.1,.98)(6.95,.96)(7.05,.93)(7,.9)(7.15,.86)(6.9,.83)(7.05,.8)(7,.76)(7.1,.72)(6.95,.68)(7.05,.64)(7,.6)(6.9,.54)(7.1,.48)(7,.44)(6.95,.39)(7.1,.34)(6.95,.2)(7,.18)(7.1,.15)(6.9,.12)(7.05,.08)(7.15,.05)(6.95,.02)(7.05,-.02)(6.9,-.04)(7.1,-.06)(7,-.1)(6.95,-.13)(7.05,-.17)(7,-.23)
(8.05,.98)(7.9,.96)(8.1,.92)(7.95,.88)(8.05,.84)(8,.8)(8.1,.76)(7.9,.72)(8,.66)(8.15,.6)(7.95,.52)(8.05,.46)(8,.4)(7.9,.33)(8.05,.26)(7.95,.22)(8.1,.19)(8,.16)(7.9,.14)(8.05,.12)(7.95,.1)(8.1,.08)(8,.06)(7.85,.05)(8.05,.03)(7.95,.01)(8.1,0)(8,-.02)(7.9,-.04)(8.05,-.06)(7.95,-.08)(8.1,-.1)(8,-.12)(7.95,-.15)(8.05,-.18)(8,-.22)(7.9,-.27)(8.05,-.3)
(9,.99)(9.1,.97)(8.95,.95)(9.1,.92)(8.9,.89)(9.05,.85)(9,.82)(8.9,.78)(9.1,.74)(9,.7)(8.95,.64)(9.05,.58)(9,.52)(9.1,.46)(8.95,.41)(9.05,.35)(8.9,.29)(9,.24)(9.05,.2)(8.95,.17)(9.1,.14)(9,.11)(8.9,.09)(9.05,.07)(8.95,.06)(9.1,.04)(9,.03)(8.9,.02)(9.05,.01)(8.95,0)(9.1,-.01)(9,-.02)(8.9,-.03)(9.05,-.04)(8.95,-.06)(9.1,-.08)(9,-.1)(9.05,-.13)(8.95,-.16)(9,-.19)(8.85,-.31)
};
\addplot[blueline,line width=.7pt] coordinates {(-.54,.68)(9.6,.68)};
\addplot[redline,line width=1.4pt] coordinates {(5,-1)(5,1)};
\end{axis}
% j
\begin{axis}[base,place={386.7}{538}{457.3}{609.3},width=151.3pt,height=152pt,xmin=-.5,xmax=42.5,ymin=-.5,ymax=42.5,y dir=reverse,
 axis line style={draw=none},xtick={0,...,42},ytick={0,...,42},xlabel={Cluster},ylabel={Cluster},major tick length=1pt,
 xticklabel style={font=\fs{2.4},rotate=90,inner sep=.5pt},yticklabel style={font=\fs{2.4},inner sep=.5pt},
 colormap name=hm,point meta min=0,point meta max=1,cbar={126}{117}{10}{29.3}{{0,.5,1}}]
\addplot[fill=hb,draw=none] coordinates {(-.5,-.5)(.5,-.5)(.5,.5)(1.5,.5)(1.5,1.5)(2.5,1.5)(2.5,2.5)(3.5,2.5)(3.5,3.5)(4.5,3.5)(4.5,4.5)(5.5,4.5)(5.5,5.5)(6.5,5.5)(6.5,6.5)(7.5,6.5)(7.5,7.5)(8.5,7.5)(8.5,8.5)(9.5,8.5)(9.5,9.5)(10.5,9.5)(10.5,10.5)(11.5,10.5)(11.5,11.5)(12.5,11.5)(12.5,12.5)(13.5,12.5)(13.5,13.5)(14.5,13.5)(14.5,14.5)(15.5,14.5)(15.5,15.5)(16.5,15.5)(16.5,16.5)(17.5,16.5)(17.5,17.5)(18.5,17.5)(18.5,18.5)(19.5,18.5)(19.5,19.5)(20.5,19.5)(20.5,20.5)(21.5,20.5)(21.5,21.5)(22.5,21.5)(22.5,22.5)(23.5,22.5)(23.5,23.5)(24.5,23.5)(24.5,24.5)(25.5,24.5)(25.5,25.5)(26.5,25.5)(26.5,26.5)(27.5,26.5)(27.5,27.5)(28.5,27.5)(28.5,28.5)(29.5,28.5)(29.5,29.5)(30.5,29.5)(30.5,30.5)(31.5,30.5)(31.5,31.5)(32.5,31.5)(32.5,32.5)(33.5,32.5)(33.5,33.5)(34.5,33.5)(34.5,34.5)(35.5,34.5)(35.5,35.5)(36.5,35.5)(36.5,36.5)(37.5,36.5)(37.5,37.5)(38.5,37.5)(38.5,38.5)(39.5,38.5)(39.5,39.5)(40.5,39.5)(40.5,40.5)(41.5,40.5)(41.5,41.5)(42.5,41.5)(42.5,42.5)(-.5,42.5)} -- cycle;
\addplot[sq=1.76pt,scatter src=explicit] coordinates {
(0,0)[.93](1,1)[.75](2,2)[.58](3,3)[.8](4,4)[.42](5,5)[.45](6,6)[.36](7,7)[.8](8,8)[.95](9,9)[.93](10,10)[.8](11,11)[.95](12,12)[.95](13,13)[.85](14,14)[.8](15,15)[.55](16,16)[.75](17,17)[.9](18,18)[.8](19,19)[.9](20,20)[.75](21,21)[.7](22,22)[.36](23,23)[.45](24,24)[.97](25,25)[.55](26,26)[.85](27,27)[.95](28,28)[.7](29,29)[.9](30,30)[.8](31,31)[.65](32,32)[.55](33,33)[.9](34,34)[.35](35,35)[.55](36,36)[.85](37,37)[.7](38,38)[.5](39,39)[.45](40,40)[.97](41,41)[.35](42,42)[.8]
(3,17)[.2](10,24)[.45](4,37)[.4](16,42)[.4](14,34)[.22](15,35)[.22](14,22)[.12](6,21)[.1](3,20)[.07](3,22)[.08](30,33)[.3](26,40)[.55](27,31)[.12]
(2,14)[.05](3,14)[.05](4,14)[.05](1,18)[.03](5,20)[.05](7,20)[.04](5,22)[.06](6,22)[.08](7,22)[.06](9,25)[.03](11,24)[.04](6,28)[.04](12,23)[.04](13,26)[.04](8,30)[.04](4,32)[.04](5,34)[.04](7,34)[.05](8,35)[.05](4,36)[.05](5,38)[.05](3,38)[.05](2,40)[.04](3,41)[.04](7,41)[.06](6,41)[.08](14,41)[.05](20,34)[.08](23,33)[.05](24,34)[.05](20,38)[.05](23,39)[.05](24,39)[.08](20,41)[.05](24,41)[.05](30,40)[.04](33,41)[.04]
};
\end{axis}
% k
\begin{axis}[base,place={562}{707.3}{462.7}{610.3},width=145.3pt,height=147.6pt,xmin=-9.1,xmax=17.5,ymin=-14.1,ymax=17.16,
 xtick={0,10},ytick={-10,0,10},xlabel={UMAP\_1},ylabel={UMAP\_2},colormap name=hue,point meta min=0,point meta max=42]
\addplot[pts=.9pt,scatter src=explicit] table[x=x,y=y,meta=k]{\spinal};
\end{axis}
% l
\begin{axis}[base,place={38.3}{193.7}{672.3}{827.3},width=155.4pt,height=155pt,xmin=-.5,xmax=42.5,ymin=-.5,ymax=42.5,y dir=reverse,
 axis line style={draw=none},axis background/.style={fill=hb},xtick={0,...,42},ytick={0,...,42},major tick length=1.2pt,
 xticklabels={28,21,37,27,17,24,19,16,9,29,23,18,1,26,13,10,35,11,12,7,15,30,6,42,2,32,22,5,4,40,3,38,36,39,34,33,14,0,20,31,25,8,41},
 yticklabels={DE-1,DE-5,DE-7,DE-4,DI-4,DE-6,DI-1,DE-11,DE-8,DI-6,DI-5,DI-7,MI-3,MI-4,ME-1,DE-15,DI-8,DE-9,DE-2,DE-12,DI-3,DE-13,DE-14,DE-0,DE-10,MI-1,VI-2,VC-2,DI-2,VE-1,VI-1,VE-4,DE-3,DE-16,VC-1,VI-6,VM-1,MI-2,VM-2,VE-2,VE-3,VI-4,VI-3},
 xticklabel style={font=\fs{2.4},rotate=90,inner sep=.5pt,text=black!50},yticklabel style={font=\fs{2.4},inner sep=.5pt,text=black!50},
 xlabel={chooseR clusters},ylabel={Known (annotated) clusters},xlabel style={font=\fs{5.8},yshift=-11pt},ylabel style={font=\fs{5.8},yshift=12pt},
 colormap name=hm,point meta min=0,point meta max=1,cbar={171}{54.6}{6.4}{40}{{0,.5,1}},colorbar style={yticklabel style={font=\fs{5}}}]
\addplot[sq=1.8pt,scatter src=explicit] coordinates {
(0,0)[.97](1,1)[.95](2,2)[.95](3,3)[.95](4,4)[.92](5,5)[.92](6,6)[.9](7,7)[.92](8,8)[.9](9,9)[.92](10,10)[.9](11,11)[.88](12,12)[.88](13,13)[.85](14,14)[.85](15,15)[.85](16,16)[.82](17,17)[.82](18,18)[.8](19,19)[.78](20,20)[.78](21,21)[.75](22,22)[.65](23,23)[.58](23,24)[.55](24,25)[.55](25,26)[.52](26,27)[.5](27,29)[.48](28,30)[.47]
(32,16)[.38](9,17)[.18](29,21)[.55](34,22)[.25](28,26)[.15](31,27)[.5](33,27)[.45](20,28)[.55](30,31)[.55](18,32)[.52](19,33)[.47](27,34)[.45](30,35)[.25]
(37,29)[.08](36,31)[.07](38,31)[.1](40,30)[.08](40,31)[.06](42,30)[.08](34,34)[.2](35,34)[.18](36,35)[.22](37,35)[.25](38,35)[.22](39,35)[.18](35,36)[.16](37,36)[.16](36,37)[.25](36,38)[.18](38,37)[.08](40,33)[.08](41,34)[.09](41,36)[.08](30,39)[.15](27,40)[.18](30,41)[.1](27,41)[.06](39,41)[.1](37,40)[.08](38,39)[.06](34,38)[.05](7,33)[.07](11,25)[.1](13,25)[.08](10,6)[.04](19,7)[.04](23,8)[.03](41,12)[.05](32,32)[.06](23,26)[.06](36,27)[.05](34,29)[.06](12,38)[.04](14,36)[.06](10,37)[.03](6,17)[.03]
};
\end{axis}
\begin{axis}[place={38.3}{193.7}{666.3}{670},width=155.4pt,height=3.7pt,hide axis,xmin=-.5,xmax=42.5,ymin=-1,ymax=1,colormap name=hm,point meta min=0,point meta max=1]
\addplot[sq=1.81pt,mark options={yscale=1.02},scatter src=explicit] coordinates {(0,0)[.95](1,0)[.95](2,0)[.93](3,0)[.93](4,0)[.93](5,0)[.93](6,0)[.88](7,0)[.9](8,0)[.92](9,0)[.85](10,0)[.78](11,0)[.82](12,0)[.72](13,0)[.65](14,0)[.62](15,0)[.72](16,0)[.75](17,0)[.78](18,0)[.82](19,0)[.85](20,0)[.9](21,0)[.93](22,0)[.88](23,0)[.6](24,0)[.82](25,0)[.65](26,0)[.9](27,0)[.92](28,0)[.42](29,0)[.62](30,0)[.55](31,0)[.42](32,0)[.97](33,0)[.42](34,0)[.82](35,0)[.78](36,0)[.6](37,0)[.5](38,0)[.45](39,0)[.38](40,0)[.36](41,0)[.3](42,0)[.25]};
\end{axis}
% m
\begin{axis}[base,place={262.7}{415}{671}{826},width=152.3pt,height=155pt,xmin=-9.16,xmax=18.2,ymin=-14.4,ymax=17.45,
 xtick={0,10},ytick={-10,0,10},xlabel={UMAP\_1},ylabel={UMAP\_2},colormap name=hm,point meta min=-1,point meta max=1,
 cbar={129.3}{120}{11}{32.7}{{-1,-.5,0,.5,1}}]
\addplot[pts=.9pt,scatter src=explicit] table[x=x,y=y,meta=s]{\spinal};
\end{axis}
% n
\begin{axis}[base,place={455}{612}{671}{828.3},width=157pt,height=157.3pt,xmin=-.62,xmax=2.6,ymin=0,ymax=45,ybar,bar width=44.3pt,
 xtick={0,1,2},xticklabels={{Sathyamurthy\\et al.},{SC3 k\_opt},{Seurat + chooseR}},xticklabel style={font=\fs{5},align=center},
 ytick={0,5,...,45},yticklabel style={font=\fs{5.2}},ymajorgrids,grid style={gridc,line width=.5pt},axis line style={draw=black!85},
 xlabel={Clustering Approach},ylabel={Number of Clusters},xlabel style={font=\fs{5.5},yshift=-4pt},ylabel style={font=\fs{5.5},yshift=8pt}]
\addplot[fill=boxfill,draw=black!65,line width=.9pt] coordinates {(0,43)(1,44)(2,43)};
\end{axis}
% overlay legends
\begin{axis}[place={0}{712}{0}{854},width=712pt,height=854pt,hide axis,clip=false,xmin=0,xmax=712,ymin=0,ymax=854,y dir=reverse,
 colormap name=hue,point meta min=0,point meta max=42]
\addplot[pts=.8pt,scatter src=explicit] table[x=x,y=y,meta=c]{\lega};
\addplot[pts=.8pt,scatter src=explicit] table[x=x,y=y,meta=c]{\legh};
\end{axis}
\begin{axis}[place={0}{712}{0}{854},width=712pt,height=854pt,hide axis,clip=false,xmin=0,xmax=712,ymin=0,ymax=854,y dir=reverse]
\addplot[only marks,mark=none,point meta=explicit symbolic,nodes near coords,
 nodes near coords style={anchor=west,font=\fs{3.2},text=tk,inner sep=0pt,xshift=5pt,yshift=0pt}] table[x=x,y=y,meta=lab]{\lega};
\addplot[only marks,mark=none,point meta=explicit symbolic,nodes near coords,
 nodes near coords style={anchor=west,font=\fs{3.2},text=tk,inner sep=0pt,xshift=5pt,yshift=0pt}] table[x=x,y=y,meta=lab]{\legh};
\end{axis}
\begin{scope}[shift={(0pt,854pt)},x=1pt,y=-1pt]
\ttl{95.4}{14}{PBMC Known Cell Clusters}
\ttl{268.5}{14}{Silhouette Score Distribution}
\ttl{451}{14}{Co-Clustering Frequency}
\ttl{625}{14}{chooseR Cell Clusters}
\ttl{116}{217}{Cell Type Comparison}
\ttl{336}{217}{Silhouette Score Plot}
\ttl{523}{217}{Cluster Number}
\ttl{99}{431}{Spinal Neuron Known}
\ttl{99}{444}{Cell Clusters}
\ttl{288.3}{437.7}{Silhouette Score Distribution}
\ttl{458}{439.3}{Co-Clustering Frequency}
\ttl{634.5}{437.7}{chooseR Cell Clusters}
\ttl{116.3}{654.3}{Cell Type Comparison}
\ttl{341}{654.3}{Silhouette Score Plot}
\ttl{530.5}{654.3}{Cluster Number}
\pl{1}{17}{a}\pl{175}{17}{b}\pl{358}{15.5}{c}\pl{533}{17}{d}
\pl{4}{221}{e}\pl{239}{221}{f}\pl{430}{221}{g}
\pl{6}{441.7}{h}\pl{191}{441.7}{i}\pl{374}{441.7}{j}\pl{544}{441.7}{k}
\pl{10}{658}{l}\pl{235}{658}{m}\pl{433}{658}{n}
\end{scope}
\end{tikzpicture}
\end{document}
